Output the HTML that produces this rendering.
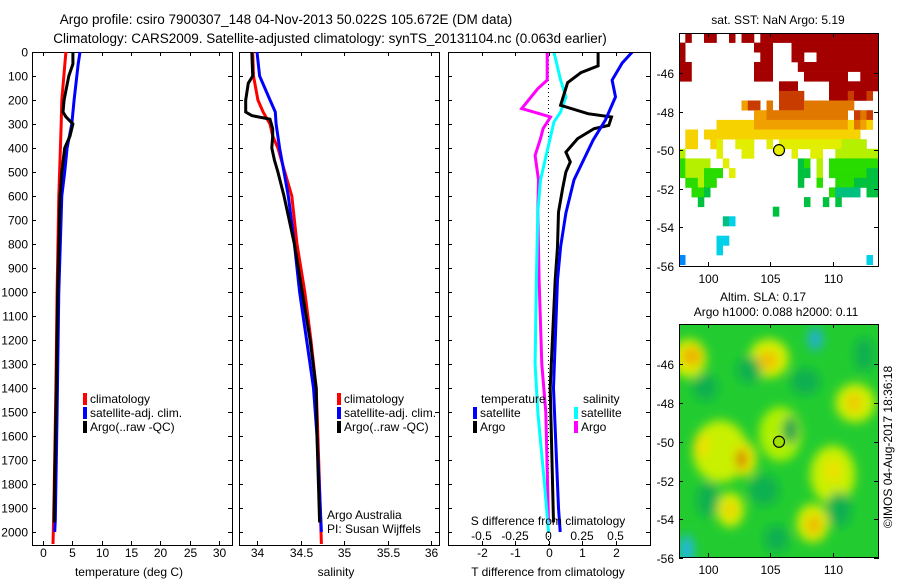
<!DOCTYPE html>
<html><head><meta charset="utf-8"><style>
html,body{margin:0;padding:0;background:#fff;}
svg{display:block;font-family:"Liberation Sans",sans-serif;}
text{fill:#000;font-size:12px;}
</style></head><body>
<svg id="fig" width="900" height="580" viewBox="0 0 900 580"></svg>
<script>
// ---------- data ----------
const depthTicks = [0,100,200,300,400,500,600,700,800,900,1000,1100,1200,1300,1400,1500,1600,1700,1800,1900,2000];
const tempTicks = [0,5,10,15,20,25,30];
const salTicks = [34,34.5,35,35.5,36];
const salTickLabels = ["34","34.5","35","35.5","36"];
const tDiffTicks = [-2,-1,0,1,2];
const sDiffTicks = [-0.5,-0.25,0,0.25,0.5];
const sDiffTickLabels = ["-0.5","-0.25","0","0.25","0.5"];

const climTDepth = [0,200,300,600,1000,1400,1700,1950,2050];
const climTVal = [3.9,3.2,3.1,2.7,2.4,2.2,2.0,1.8,1.7];
const satTDepth = [0,50,200,300,400,500,600,1000,1500,1950,2000];
const satTVal = [6.3,6.0,5.3,4.9,4.1,3.7,3.2,2.7,2.4,2.1,2.0];
const argoTDepth = [0,50,100,200,250,270,300,350,400,500,600,1000,1500,1900,1960];
const argoTVal = [5.1,5.1,4.4,3.6,3.4,3.9,5.1,4.6,3.7,3.2,2.9,2.5,2.2,1.9,1.9];

const climSDepth = [0,100,200,250,300,350,400,500,600,800,1000,1200,1400,1600,2050];
const climSVal = [33.95,33.96,34.01,34.07,34.15,34.18,34.24,34.32,34.40,34.46,34.55,34.62,34.68,34.70,34.74];
const satSDepth = [0,100,150,200,250,300,400,500,600,800,1000,1200,1400,1600,2000];
const satSVal = [34.0,34.03,34.09,34.15,34.21,34.22,34.26,34.31,34.36,34.43,34.49,34.57,34.65,34.69,34.74];
const argoSDepth = [0,100,130,200,250,265,280,320,350,400,450,500,600,800,1000,1200,1400,1600,1960];
const argoSVal = [33.94,33.95,33.9,33.87,33.87,33.94,34.15,34.18,34.18,34.17,34.2,34.24,34.31,34.43,34.52,34.61,34.68,34.69,34.72];

const satTdDepth = [0,46,117,187,283,367,533,671,812,950,1400,1900,2000];
const satTdVal = [2.5,2.2,1.9,2.0,1.7,1.33,0.76,0.52,0.36,0.27,0.15,0.3,0.35];
const argoTdDepth = [0,58,86,128,222,257,271,306,319,361,417,458,500,569,667,812,950,1400,1960];
const argoTdVal = [1.48,1.48,0.97,0.57,0.36,1.18,1.88,1.8,1.36,0.87,0.52,0.65,0.52,0.42,0.3,0.27,0.2,0.05,0.15];
const argoSdDepth = [0,117,153,236,255,271,319,361,431,533,667,950,1300,1500,1960];
const argoSdVal = [-0.01,-0.01,-0.08,-0.2,-0.08,0.015,-0.04,-0.06,-0.1,-0.075,-0.08,-0.07,-0.05,-0.02,0];
const satSdDepth = [0,117,187,250,292,389,533,667,950,1300,1500,1800,2000];
const satSdVal = [0.04,0.09,0.13,0.09,0.04,0,-0.06,-0.08,-0.09,-0.1,-0.08,-0.03,0];

const lonTicks = [100,105,110];
const latTicks = [-46,-48,-50,-52,-54,-56];
const argoLon = 105.7, argoLat = -50.0;

const sstRows = [
".R..RR..R.RR.RRRRRRRRRRRRRRRRRRR",
"R...........RRR...RRRRRRRRRRRRRR",
"R............RR...RR..RRRRRRRRRR",
"RR..........RRR....RRRRRRRRRRRRR",
"RR..........RRR.....RRRRRRR..RRR",
"................RRR.....RRRRRRRR",
"................rrrr....RRRrRRr.",
"..........Orr.o.rrrroooooooo....",
"............OOooooooooooooo.ror.",
"......yyyyyyOOOOOOOOOOOOOOOyoOy.",
".yy.yyyyyyyyyyyyyyyyyyyyyyyyy...",
".yy..yY..YYY..Y.YYYYYYYYYYllll..",
"l.....Y...YY......Y..YY..lllllll",
"gllll..Y...........Gg.l.gggggggg",
"glllggg.Y..........GG.l.ggggggGG",
".gglgg.............G..g..gggGGGG",
"..ggG...................gtttt.GG",
"...G................G..G.G......",
"...............G................",
".......tc.......................",
"................................",
"......cc........................",
"......c.........................",
"b.............................c."
];
const sstColors = {R:"#a50000",r:"#c83c00",o:"#e07800",O:"#f0a000",y:"#f5d200",Y:"#e2ee00",l:"#b4f000",g:"#28dc00",G:"#00c040",t:"#00c080",c:"#00d0e8",b:"#0088ff"};

// SLA blobs: lon, lat, rx, ry (deg), color
const slaLon = [98.5,104.9,108.6,111.8,101.0,103.0,110.0,101.8,108.4,105.8,98.3,106.6,99.8,103.3,107.8,112.5,104.5,110.5,100.0,105.5];
const slaLat = [-45.7,-45.7,-44.7,-48.0,-50.5,-50.9,-51.7,-53.5,-54.2,-49.6,-55.6,-49.4,-47.2,-46.3,-46.9,-45.5,-52.5,-53.5,-53.0,-55.0];
const slaRx = [1.4,1.6,0.6,1.6,2.2,0.9,1.8,1.1,1.3,1.7,0.6,0.6,1.0,1.0,1.2,0.8,1.2,1.0,0.9,1.0];
const slaRy = [1.0,1.0,0.6,1.0,1.6,0.9,1.5,0.9,1.0,1.4,0.8,0.7,0.7,0.7,0.7,0.9,0.8,0.9,0.9,0.7];
const slaCol = ["#d8f000","#d8f000","#20b0d0","#d0f000","#c8f000","#e8e800","#c8f000","#d8f000","#d8ee00","#b0f000","#20b8e0","#10a050","#10b050","#10b050","#10b050","#10b050","#10b050","#10b050","#10b050","#10b050"];
const slaCore = [["#f0b000",98.7,-45.6,0.8,0.5],["#f0c000",104.8,-45.8,0.8,0.5],["#f0c800",111.7,-48.0,0.6,0.5],["#f0b800",108.5,-54.3,0.6,0.5],["#c84800",102.7,-50.9,0.35,0.5],["#f0d000",101.8,-53.5,0.5,0.4],["#f0e000",99.5,-50.2,0.6,0.6],["#f0e000",110.0,-51.5,0.6,0.6]];

// ---------- helpers ----------
const NS = "http://www.w3.org/2000/svg";
const svg = document.getElementById('fig');
function mk(tag, attrs, parent, txt){
  const e = document.createElementNS(NS, tag);
  for (const k in attrs) e.setAttribute(k, attrs[k]);
  if (txt !== undefined) e.textContent = txt;
  (parent || svg).appendChild(e);
  return e;
}
const TOP = 52, BOT = 545;
function yD(d){ return TOP + d*0.24; }

function panel(name, x0, x1, xf, ticks, labels, labelY){
  const g = mk('g', {});
  
  
  const r = mk('rect', {x:x0+0.5, y:TOP+0.5, width:x1-x0, height:BOT-TOP, fill:'none', stroke:'#000', 'stroke-width':1}, g);
  
  
  depthTicks.forEach(d => {
    const y = Math.round(yD(d)) + 0.5;
    mk('line', {x1:x0, x2:x0+4, y1:y, y2:y, stroke:'#000'}, g);
    mk('line', {x1:x1-4, x2:x1, y1:y, y2:y, stroke:'#000'}, g);
  });
  ticks.forEach((v, i) => {
    const x = Math.round(xf(v)) + 0.5;
    mk('line', {x1:x, x2:x, y1:TOP, y2:TOP+4, stroke:'#000'}, g);
    mk('line', {x1:x, x2:x, y1:BOT-4, y2:BOT, stroke:'#000'}, g);
    if (labels) {
      const t = mk('text', {x:x, y:labelY, 'text-anchor':'middle'}, g, labels[i]);
      
      
    }
  });
  return g;
}
function series(g, name, xf, depths, vals, color, clip){
  const pts = depths.map((d, i) => xf(vals[i]).toFixed(1) + ',' + yD(d).toFixed(1)).join(' ');
  const p = mk('polyline', {points:pts, fill:'none', stroke:color, 'stroke-width':3, 'stroke-linejoin':'miter'}, g);
  if (clip) p.setAttribute('clip-path', clip);
  
  
}
function legend(g, name, x, y, color, label){
  const m = mk('rect', {x:x, y:y-10, width:4, height:12, fill:color}, g);
  
  
  const t = mk('text', {x:x+7, y:y}, g, label);
  
  
}

// ---------- title ----------
const t1 = mk('text', {x:286, y:24, 'text-anchor':'middle', style:'font-size:13.5px'}, svg, 'Argo profile: csiro 7900307_148 04-Nov-2013 50.022S 105.672E (DM data)');


const t2 = mk('text', {x:330, y:43, 'text-anchor':'middle', style:'font-size:13.5px'}, svg, 'Climatology: CARS2009. Satellite-adjusted climatology: synTS_20131104.nc (0.063d earlier)');



depthTicks.forEach(d => {
  const t = mk('text', {x:28, y:yD(d)+4.5, 'text-anchor':'end'}, svg, String(d));
  
  
});

// ---------- temperature panel ----------
const xT = v => 43 + v*5.87;
const gT = panel('temperature-panel', 32, 232, xT, tempTicks, tempTicks.map(String), 557);
series(gT, 'temperature-climatology-line', xT, climTDepth, climTVal, '#ff0000');
series(gT, 'temperature-satellite-line', xT, satTDepth, satTVal, '#0000ff');
series(gT, 'temperature-argo-line', xT, argoTDepth, argoTVal, '#000000');
legend(gT, 'legend-climatology', 83, 403, '#ff0000', 'climatology');
legend(gT, 'legend-satellite-adj', 83, 417, '#0000ff', 'satellite-adj. clim.');
legend(gT, 'legend-argo', 83, 431, '#000000', 'Argo(..raw -QC)');
const xtT = mk('text', {x:129, y:576, 'text-anchor':'middle'}, gT, 'temperature (deg C)');



// ---------- salinity panel ----------
const xS = v => 257 + (v-34)*87;
const gS = panel('salinity-panel', 239, 439, xS, salTicks, salTickLabels, 557);
series(gS, 'salinity-climatology-line', xS, climSDepth, climSVal, '#ff0000');
series(gS, 'salinity-satellite-line', xS, satSDepth, satSVal, '#0000ff');
series(gS, 'salinity-argo-line', xS, argoSDepth, argoSVal, '#000000');
legend(gS, 'legend-climatology-sal', 337, 403, '#ff0000', 'climatology');
legend(gS, 'legend-satellite-adj-sal', 337, 417, '#0000ff', 'satellite-adj. clim.');
legend(gS, 'legend-argo-sal', 337, 431, '#000000', 'Argo(..raw -QC)');
const ag1 = mk('text', {x:327, y:519}, gS, 'Argo Australia');


const ag2 = mk('text', {x:327, y:533}, gS, 'PI: Susan Wijffels');


const xtS = mk('text', {x:336, y:576, 'text-anchor':'middle'}, gS, 'salinity');



// ---------- difference panel ----------
const defs = mk('defs', {});
const cp = mk('clipPath', {id:'cp3'}, defs);
mk('rect', {x:449, y:53, width:200, height:491}, cp);
const xTd = v => 548.5 + v*33.5;
const xSd = v => 548.5 + v*134;
const gD = panel('difference-panel', 448, 650, xTd, tDiffTicks, tDiffTicks.map(String), 557);
const zl = mk('line', {x1:548.5, x2:548.5, y1:TOP, y2:BOT, stroke:'#000', 'stroke-dasharray':'1,3'}, gD);


series(gD, 'salinity-argo-diff-line', xSd, argoSdDepth, argoSdVal, '#ff00ff', 'url(#cp3)');
series(gD, 'salinity-satellite-diff-line', xSd, satSdDepth, satSdVal, '#00ffff', 'url(#cp3)');
series(gD, 'temperature-argo-diff-line', xTd, argoTdDepth, argoTdVal, '#000000', 'url(#cp3)');
series(gD, 'temperature-satellite-diff-line', xTd, satTdDepth, satTdVal, '#0000ff', 'url(#cp3)');
const lt = mk('text', {x:481, y:403}, gD, 'temperature');


const ls = mk('text', {x:583, y:403}, gD, 'salinity');


legend(gD, 'legend-temp-satellite', 473, 417, '#0000ff', 'satellite');
legend(gD, 'legend-temp-argo', 473, 431, '#000000', 'Argo');
legend(gD, 'legend-sal-satellite', 574, 417, '#00ffff', 'satellite');
legend(gD, 'legend-sal-argo', 574, 431, '#ff00ff', 'Argo');
const sTitle = mk('text', {x:548, y:525, 'text-anchor':'middle'}, gD, 'S difference from climatology');


sDiffTicks.forEach((v, i) => {
  const t = mk('text', {x:xSd(v), y:540, 'text-anchor':'middle'}, gD, sDiffTickLabels[i]);
  
  
});
const xtD = mk('text', {x:548, y:576, 'text-anchor':'middle'}, gD, 'T difference from climatology');



// ---------- maps ----------
const MX0 = 679, MX1 = 878;
const lonX = lon => MX0 + (lon - 97.7)*12.5;
function mapFrame(g, name, top, bot, latY){
  const r = mk('rect', {x:MX0+0.5, y:top+0.5, width:MX1-MX0, height:bot-top, fill:'none', stroke:'#000'}, g);
  
  
  lonTicks.forEach(l => {
    const x = Math.round(lonX(l)) + 0.5;
    mk('line', {x1:x, x2:x, y1:top, y2:top+4, stroke:'#000'}, g);
    mk('line', {x1:x, x2:x, y1:bot-4, y2:bot, stroke:'#000'}, g);
    const t = mk('text', {x:x, y:bot+17, 'text-anchor':'middle'}, g, String(l));
    
    
  });
  latTicks.forEach(l => {
    const y = Math.round(latY(l)) + 0.5;
    mk('line', {x1:MX0, x2:MX0+4, y1:y, y2:y, stroke:'#000'}, g);
    mk('line', {x1:MX1-4, x2:MX1+1, y1:y, y2:y, stroke:'#000'}, g);
    const t = mk('text', {x:674, y:y+4.5, 'text-anchor':'end'}, g, String(l));
    
    
  });
}

// SST map
const sstLatY = lat => 33 + (-43.93 - lat)*19.3;
const gM1 = mk('g', {});


const t3 = mk('text', {x:778, y:24, 'text-anchor':'middle'}, gM1, 'sat. SST: NaN Argo: 5.19');


sstRows.forEach((row, j) => {
  for (let i = 0; i < row.length; i++) {
    const c = row[i];
    if (c === '.') continue;
    const x0 = lonX(97.7 + i*0.5), x1 = lonX(98.2 + i*0.5);
    const y0 = sstLatY(-43.93 - j*0.5), y1 = sstLatY(-44.43 - j*0.5);
    const r = mk('rect', {x:x0.toFixed(1), y:y0.toFixed(1), width:(Math.min(x1,MX1)-x0+0.3).toFixed(1), height:(y1-y0+0.3).toFixed(1), fill:sstColors[c]}, gM1);
    
    
  }
});
mapFrame(gM1, 'sst-map', 33, 266, sstLatY);
const c1 = mk('circle', {cx:lonX(argoLon), cy:sstLatY(argoLat), r:5.5, fill:'#e8f000', stroke:'#000', 'stroke-width':1.2}, gM1);



// SLA map
const slaLatY = lat => 324 + (-43.93 - lat)*19.4;
const gM2 = mk('g', {});


const t4 = mk('text', {x:763, y:301, 'text-anchor':'middle'}, gM2, 'Altim. SLA: 0.17');


const t5 = mk('text', {x:776, y:316, 'text-anchor':'middle'}, gM2, 'Argo h1000: 0.088 h2000: 0.11');


const cp2 = mk('clipPath', {id:'cpm2'}, defs);
mk('rect', {x:MX0, y:324, width:MX1-MX0, height:233}, cp2);
const flt = mk('filter', {id:'blr', x:'-50%', y:'-50%', width:'200%', height:'200%'}, defs);
mk('feGaussianBlur', {stdDeviation:5}, flt);
const gB = mk('g', {'clip-path':'url(#cpm2)'}, gM2);
const bg = mk('rect', {x:MX0, y:324, width:MX1-MX0, height:233, fill:'#22cc30'}, gB);


const gBl = mk('g', {filter:'url(#blr)'}, gB);
slaLon.forEach((lon, i) => {
  const e = mk('ellipse', {cx:lonX(lon), cy:slaLatY(slaLat[i]), rx:slaRx[i]*12.5, ry:slaRy[i]*19.4, fill:slaCol[i]}, gBl);
  
  
});
slaCore.forEach(c => {
  const e = mk('ellipse', {cx:lonX(c[1]), cy:slaLatY(c[2]), rx:c[3]*12.5, ry:c[4]*19.4, fill:c[0]}, gBl);
  
  
});
mapFrame(gM2, 'sla-map', 324, 557, slaLatY);
const c2 = mk('circle', {cx:lonX(argoLon), cy:slaLatY(argoLat), r:5.5, fill:'#9ee000', stroke:'#000', 'stroke-width':1.2}, gM2);


const cr = mk('text', {x:0, y:0, transform:'translate(892,447) rotate(-90)', 'text-anchor':'middle'}, svg, '©IMOS 04-Aug-2017 18:36:18');


</script>
</body></html>
